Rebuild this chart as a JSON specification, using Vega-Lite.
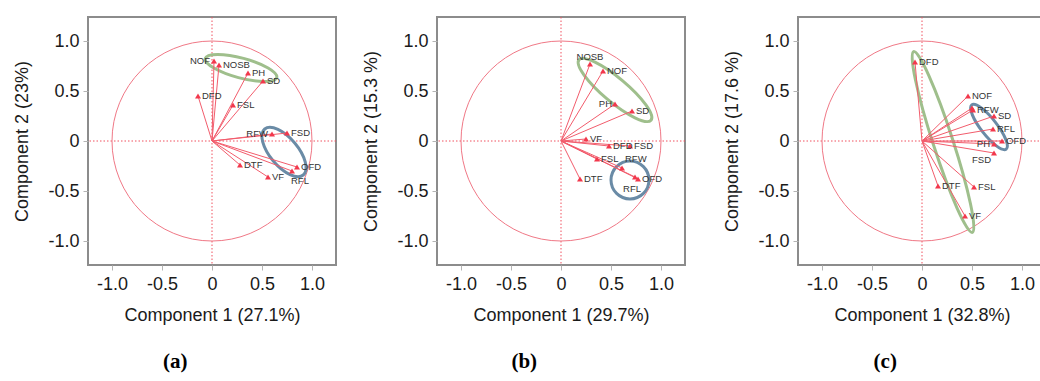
{
  "$schema": "https://vega.github.io/schema/vega-lite/v6.json",
  "padding": {"left": 12, "top": 15, "right": 0, "bottom": 0},
  "background": "white",
  "config": {
    "view": {"stroke": "#8c8c8c", "strokeWidth": 2},
    "axis": {"grid": false, "domain": false, "tickColor": "#b4b4b4", "tickSize": 5, "labelFont": "Liberation Sans", "labelFontSize": 18, "labelColor": "#1a1a1a", "titleFont": "Liberation Sans", "titleFontSize": 18, "titleFontWeight": "normal", "titleColor": "#1a1a1a"},
    "axisX": {"labelPadding": 5, "titlePadding": 13},
    "axisY": {"labelPadding": 4, "titlePadding": 16},
    "title": {"orient": "bottom", "font": "Liberation Serif", "fontSize": 21, "fontWeight": "bold", "color": "#000000", "offset": 27, "anchor": "middle", "frame": "bounds"}
  },
  "datasets": {
    "arrows": [
      {"panel": "a", "var": "NOF", "x": 0.02, "y": 0.80},
      {"panel": "a", "var": "NOSB", "x": 0.07, "y": 0.76},
      {"panel": "a", "var": "PH", "x": 0.36, "y": 0.68},
      {"panel": "a", "var": "SD", "x": 0.51, "y": 0.60},
      {"panel": "a", "var": "DFD", "x": -0.14, "y": 0.45},
      {"panel": "a", "var": "FSL", "x": 0.21, "y": 0.36},
      {"panel": "a", "var": "RFW", "x": 0.60, "y": 0.07},
      {"panel": "a", "var": "FSD", "x": 0.75, "y": 0.08},
      {"panel": "a", "var": "OFD", "x": 0.85, "y": -0.26},
      {"panel": "a", "var": "RFL", "x": 0.80, "y": -0.30},
      {"panel": "a", "var": "DTF", "x": 0.28, "y": -0.24},
      {"panel": "a", "var": "VF", "x": 0.56, "y": -0.36},
      {"panel": "b", "var": "NOSB", "x": 0.29, "y": 0.77},
      {"panel": "b", "var": "NOF", "x": 0.42, "y": 0.70},
      {"panel": "b", "var": "PH", "x": 0.54, "y": 0.37},
      {"panel": "b", "var": "SD", "x": 0.71, "y": 0.30},
      {"panel": "b", "var": "VF", "x": 0.25, "y": 0.02},
      {"panel": "b", "var": "DFD", "x": 0.48, "y": -0.05},
      {"panel": "b", "var": "FSD", "x": 0.69, "y": -0.05},
      {"panel": "b", "var": "FSL", "x": 0.36, "y": -0.18},
      {"panel": "b", "var": "RFW", "x": 0.61, "y": -0.27},
      {"panel": "b", "var": "OFD", "x": 0.77, "y": -0.38},
      {"panel": "b", "var": "RFL", "x": 0.74, "y": -0.36},
      {"panel": "b", "var": "DTF", "x": 0.19, "y": -0.38},
      {"panel": "c", "var": "DFD", "x": -0.07, "y": 0.79},
      {"panel": "c", "var": "NOF", "x": 0.46, "y": 0.45},
      {"panel": "c", "var": "NOSB", "x": 0.50, "y": 0.33},
      {"panel": "c", "var": "RFW", "x": 0.51, "y": 0.31},
      {"panel": "c", "var": "SD", "x": 0.72, "y": 0.25},
      {"panel": "c", "var": "RFL", "x": 0.71, "y": 0.12},
      {"panel": "c", "var": "OFD", "x": 0.80, "y": 0.0},
      {"panel": "c", "var": "PH", "x": 0.72, "y": -0.03},
      {"panel": "c", "var": "FSD", "x": 0.72, "y": -0.12},
      {"panel": "c", "var": "DTF", "x": 0.16, "y": -0.45},
      {"panel": "c", "var": "FSL", "x": 0.52, "y": -0.46},
      {"panel": "c", "var": "VF", "x": 0.43, "y": -0.75}
    ],
    "ellipses": [
      {"panel": "a", "grp": "green", "x": 0.29, "y": 0.73},
      {"panel": "a", "grp": "blue", "x": 0.72, "y": -0.11},
      {"panel": "b", "grp": "green", "x": 0.54, "y": 0.51},
      {"panel": "b", "grp": "blue", "x": 0.69, "y": -0.39},
      {"panel": "c", "grp": "green", "x": 0.21, "y": -0.01},
      {"panel": "c", "grp": "blue", "x": 0.67, "y": 0.14}
    ]
  },
  "spacing": 23,
  "hconcat": [
    {
      "width": 248, "height": 248,
      "title": "(a)",
      "layer": [
        {"data": {"values": [{"v": 0}]}, "mark": {"type": "rule", "color": "#f0505f", "strokeDash": [1.5, 2], "strokeWidth": 1}, "encoding": {"x": {"datum": 0, "type": "quantitative"}}},
        {"data": {"values": [{"v": 0}]}, "mark": {"type": "rule", "color": "#f0505f", "strokeDash": [1.5, 2], "strokeWidth": 1}, "encoding": {"y": {"datum": 0, "type": "quantitative"}}},
        {"data": {"values": [{"v": 0}]}, "mark": {"type": "point", "shape": "circle", "size": 40000, "filled": false, "stroke": "#f07886", "strokeWidth": 1, "opacity": 1}, "encoding": {"x": {"datum": 0, "type": "quantitative"}, "y": {"datum": 0, "type": "quantitative"}}},
        {"data": {"name": "ellipses"}, "transform": [{"filter": {"field": "panel", "equal": "a"}}, {"filter": {"field": "grp", "equal": "green"}}], "mark": {"type": "point", "shape": "M 1 0 C 1 0.149 0.5523 0.27 0 0.27 C -0.5523 0.27 -1 0.149 -1 0 C -1 -0.149 -0.5523 -0.27 0 -0.27 C 0.5523 -0.27 1 -0.149 1 0 Z", "size": 5476, "angle": 15, "filled": false, "stroke": "#9fbf8c", "strokeWidth": 3, "opacity": 1}, "encoding": {"x": {"field": "x", "type": "quantitative"}, "y": {"field": "y", "type": "quantitative"}}},
        {"data": {"name": "ellipses"}, "transform": [{"filter": {"field": "panel", "equal": "a"}}, {"filter": {"field": "grp", "equal": "blue"}}], "mark": {"type": "point", "shape": "M 1 0 C 1 0.258 0.5523 0.467 0 0.467 C -0.5523 0.467 -1 0.258 -1 0 C -1 -0.258 -0.5523 -0.467 0 -0.467 C 0.5523 -0.467 1 -0.258 1 0 Z", "size": 3600, "angle": 50, "filled": false, "stroke": "#6a8ba6", "strokeWidth": 3, "opacity": 1}, "encoding": {"x": {"field": "x", "type": "quantitative"}, "y": {"field": "y", "type": "quantitative"}}},
        {"data": {"name": "arrows"}, "transform": [{"filter": {"field": "panel", "equal": "a"}}], "mark": {"type": "rule", "color": "#f25c6c", "strokeWidth": 1},
          "encoding": {
            "x": {"field": "x", "type": "quantitative", "scale": {"domain": [-1.24, 1.24], "nice": false, "zero": false}, "title": "Component 1 (27.1%)", "axis": {"values": [-1, -0.75, -0.5, -0.25, 0, 0.25, 0.5, 0.75, 1], "labelExpr": "datum.value == -1 ? '-1.0' : datum.value == -0.5 ? '-0.5' : datum.value == 0 ? '0' : datum.value == 0.5 ? '0.5' : datum.value == 1 ? '1.0' : ''", "labelOverlap": false, "labelFlush": false}},
            "y": {"field": "y", "type": "quantitative", "scale": {"domain": [-1.24, 1.24], "nice": false, "zero": false}, "title": "Component 2 (23%)", "axis": {"values": [-1, -0.75, -0.5, -0.25, 0, 0.25, 0.5, 0.75, 1], "labelExpr": "datum.value == -1 ? '-1.0' : datum.value == -0.5 ? '-0.5' : datum.value == 0 ? '0' : datum.value == 0.5 ? '0.5' : datum.value == 1 ? '1.0' : ''", "labelOverlap": false, "labelFlush": false}},
            "x2": {"datum": 0}, "y2": {"datum": 0}}},
        {"data": {"name": "arrows"}, "transform": [{"filter": {"field": "panel", "equal": "a"}}], "mark": {"type": "point", "shape": "triangle-up", "size": 36, "filled": true, "color": "#f2384c", "opacity": 1}, "encoding": {"x": {"field": "x", "type": "quantitative"}, "y": {"field": "y", "type": "quantitative"}}},
        {"data": {"name": "arrows"}, "transform": [{"filter": {"field": "panel", "equal": "a"}}, {"filter": {"field": "var", "oneOf": ["NOSB", "PH", "SD", "DFD", "FSL", "FSD", "OFD", "DTF", "VF"]}}], "mark": {"type": "text", "align": "left", "baseline": "middle", "dx": 4, "font": "Liberation Sans", "fontSize": 9.5, "color": "#333333"}, "encoding": {"x": {"field": "x", "type": "quantitative"}, "y": {"field": "y", "type": "quantitative"}, "text": {"field": "var"}}},
        {"data": {"name": "arrows"}, "transform": [{"filter": {"field": "panel", "equal": "a"}}, {"filter": {"field": "var", "oneOf": ["NOF", "RFW"]}}], "mark": {"type": "text", "align": "right", "baseline": "middle", "dx": -4, "font": "Liberation Sans", "fontSize": 9.5, "color": "#333333"}, "encoding": {"x": {"field": "x", "type": "quantitative"}, "y": {"field": "y", "type": "quantitative"}, "text": {"field": "var"}}},
        {"data": {"name": "arrows"}, "transform": [{"filter": {"field": "panel", "equal": "a"}}, {"filter": {"field": "var", "oneOf": ["RFL"]}}], "mark": {"type": "text", "align": "left", "baseline": "top", "dx": -1, "dy": 5, "font": "Liberation Sans", "fontSize": 9.5, "color": "#333333"}, "encoding": {"x": {"field": "x", "type": "quantitative"}, "y": {"field": "y", "type": "quantitative"}, "text": {"field": "var"}}}
      ]
    },
    {
      "spacing": 35,
      "hconcat": [
        {
          "width": 248, "height": 248,
          "title": "(b)",
          "layer": [
            {"data": {"values": [{"v": 0}]}, "mark": {"type": "rule", "color": "#f0505f", "strokeDash": [1.5, 2], "strokeWidth": 1}, "encoding": {"x": {"datum": 0, "type": "quantitative"}}},
            {"data": {"values": [{"v": 0}]}, "mark": {"type": "rule", "color": "#f0505f", "strokeDash": [1.5, 2], "strokeWidth": 1}, "encoding": {"y": {"datum": 0, "type": "quantitative"}}},
            {"data": {"values": [{"v": 0}]}, "mark": {"type": "point", "shape": "circle", "size": 40000, "filled": false, "stroke": "#f07886", "strokeWidth": 1, "opacity": 1}, "encoding": {"x": {"datum": 0, "type": "quantitative"}, "y": {"datum": 0, "type": "quantitative"}}},
            {"data": {"name": "ellipses"}, "transform": [{"filter": {"field": "panel", "equal": "b"}}, {"filter": {"field": "grp", "equal": "green"}}], "mark": {"type": "point", "shape": "M 1 0 C 1 0.141 0.5523 0.255 0 0.255 C -0.5523 0.255 -1 0.141 -1 0 C -1 -0.141 -0.5523 -0.255 0 -0.255 C 0.5523 -0.255 1 -0.141 1 0 Z", "size": 8836, "angle": 40, "filled": false, "stroke": "#9fbf8c", "strokeWidth": 3, "opacity": 1}, "encoding": {"x": {"field": "x", "type": "quantitative"}, "y": {"field": "y", "type": "quantitative"}}},
            {"data": {"name": "ellipses"}, "transform": [{"filter": {"field": "panel", "equal": "b"}}, {"filter": {"field": "grp", "equal": "blue"}}], "mark": {"type": "point", "shape": "circle", "size": 1444, "filled": false, "stroke": "#6a8ba6", "strokeWidth": 3, "opacity": 1}, "encoding": {"x": {"field": "x", "type": "quantitative"}, "y": {"field": "y", "type": "quantitative"}}},
            {"data": {"name": "arrows"}, "transform": [{"filter": {"field": "panel", "equal": "b"}}], "mark": {"type": "rule", "color": "#f25c6c", "strokeWidth": 1},
              "encoding": {
                "x": {"field": "x", "type": "quantitative", "scale": {"domain": [-1.24, 1.24], "nice": false, "zero": false}, "title": "Component 1 (29.7%)", "axis": {"values": [-1, -0.75, -0.5, -0.25, 0, 0.25, 0.5, 0.75, 1], "labelExpr": "datum.value == -1 ? '-1.0' : datum.value == -0.5 ? '-0.5' : datum.value == 0 ? '0' : datum.value == 0.5 ? '0.5' : datum.value == 1 ? '1.0' : ''", "labelOverlap": false, "labelFlush": false}},
                "y": {"field": "y", "type": "quantitative", "scale": {"domain": [-1.24, 1.24], "nice": false, "zero": false}, "title": "Component 2 (15.3 %)", "axis": {"values": [-1, -0.75, -0.5, -0.25, 0, 0.25, 0.5, 0.75, 1], "labelExpr": "datum.value == -1 ? '-1.0' : datum.value == -0.5 ? '-0.5' : datum.value == 0 ? '0' : datum.value == 0.5 ? '0.5' : datum.value == 1 ? '1.0' : ''", "labelOverlap": false, "labelFlush": false}},
                "x2": {"datum": 0}, "y2": {"datum": 0}}},
            {"data": {"name": "arrows"}, "transform": [{"filter": {"field": "panel", "equal": "b"}}], "mark": {"type": "point", "shape": "triangle-up", "size": 36, "filled": true, "color": "#f2384c", "opacity": 1}, "encoding": {"x": {"field": "x", "type": "quantitative"}, "y": {"field": "y", "type": "quantitative"}}},
            {"data": {"name": "arrows"}, "transform": [{"filter": {"field": "panel", "equal": "b"}}, {"filter": {"field": "var", "oneOf": ["NOF", "SD", "VF", "DFD", "FSD", "FSL", "OFD", "DTF"]}}], "mark": {"type": "text", "align": "left", "baseline": "middle", "dx": 4, "font": "Liberation Sans", "fontSize": 9.5, "color": "#333333"}, "encoding": {"x": {"field": "x", "type": "quantitative"}, "y": {"field": "y", "type": "quantitative"}, "text": {"field": "var"}}},
            {"data": {"name": "arrows"}, "transform": [{"filter": {"field": "panel", "equal": "b"}}, {"filter": {"field": "var", "oneOf": ["PH"]}}], "mark": {"type": "text", "align": "right", "baseline": "middle", "dx": -3, "font": "Liberation Sans", "fontSize": 9.5, "color": "#333333"}, "encoding": {"x": {"field": "x", "type": "quantitative"}, "y": {"field": "y", "type": "quantitative"}, "text": {"field": "var"}}},
            {"data": {"name": "arrows"}, "transform": [{"filter": {"field": "panel", "equal": "b"}}, {"filter": {"field": "var", "oneOf": ["NOSB"]}}], "mark": {"type": "text", "align": "center", "baseline": "bottom", "dy": -2, "font": "Liberation Sans", "fontSize": 9.5, "color": "#333333"}, "encoding": {"x": {"field": "x", "type": "quantitative"}, "y": {"field": "y", "type": "quantitative"}, "text": {"field": "var"}}},
            {"data": {"name": "arrows"}, "transform": [{"filter": {"field": "panel", "equal": "b"}}, {"filter": {"field": "var", "oneOf": ["RFW"]}}], "mark": {"type": "text", "align": "left", "baseline": "middle", "dx": 3, "dy": -9, "font": "Liberation Sans", "fontSize": 9.5, "color": "#333333"}, "encoding": {"x": {"field": "x", "type": "quantitative"}, "y": {"field": "y", "type": "quantitative"}, "text": {"field": "var"}}},
            {"data": {"name": "arrows"}, "transform": [{"filter": {"field": "panel", "equal": "b"}}, {"filter": {"field": "var", "oneOf": ["RFL"]}}], "mark": {"type": "text", "align": "center", "baseline": "top", "dx": -3, "dy": 7, "font": "Liberation Sans", "fontSize": 9.5, "color": "#333333"}, "encoding": {"x": {"field": "x", "type": "quantitative"}, "y": {"field": "y", "type": "quantitative"}, "text": {"field": "var"}}}
          ]
        },
        {
          "width": 248, "height": 248,
          "title": "(c)",
          "layer": [
            {"data": {"values": [{"v": 0}]}, "mark": {"type": "rule", "color": "#f0505f", "strokeDash": [1.5, 2], "strokeWidth": 1}, "encoding": {"x": {"datum": 0, "type": "quantitative"}}},
            {"data": {"values": [{"v": 0}]}, "mark": {"type": "rule", "color": "#f0505f", "strokeDash": [1.5, 2], "strokeWidth": 1}, "encoding": {"y": {"datum": 0, "type": "quantitative"}}},
            {"data": {"values": [{"v": 0}]}, "mark": {"type": "point", "shape": "circle", "size": 40000, "filled": false, "stroke": "#f07886", "strokeWidth": 1, "opacity": 1}, "encoding": {"x": {"datum": 0, "type": "quantitative"}, "y": {"datum": 0, "type": "quantitative"}}},
            {"data": {"name": "ellipses"}, "transform": [{"filter": {"field": "panel", "equal": "c"}}, {"filter": {"field": "grp", "equal": "green"}}], "mark": {"type": "point", "shape": "M 1 0 C 1 0.058 0.5523 0.105 0 0.105 C -0.5523 0.105 -1 0.058 -1 0 C -1 -0.058 -0.5523 -0.105 0 -0.105 C 0.5523 -0.105 1 -0.058 1 0 Z", "size": 36100, "angle": 72, "filled": false, "stroke": "#9fbf8c", "strokeWidth": 3, "opacity": 1}, "encoding": {"x": {"field": "x", "type": "quantitative"}, "y": {"field": "y", "type": "quantitative"}}},
            {"data": {"name": "ellipses"}, "transform": [{"filter": {"field": "panel", "equal": "c"}}, {"filter": {"field": "grp", "equal": "blue"}}], "mark": {"type": "point", "shape": "M 1 0 C 1 0.158 0.5523 0.286 0 0.286 C -0.5523 0.286 -1 0.158 -1 0 C -1 -0.158 -0.5523 -0.286 0 -0.286 C 0.5523 -0.286 1 -0.158 1 0 Z", "size": 3136, "angle": 52, "filled": false, "stroke": "#6a8ba6", "strokeWidth": 3, "opacity": 1}, "encoding": {"x": {"field": "x", "type": "quantitative"}, "y": {"field": "y", "type": "quantitative"}}},
            {"data": {"name": "arrows"}, "transform": [{"filter": {"field": "panel", "equal": "c"}}], "mark": {"type": "rule", "color": "#f25c6c", "strokeWidth": 1},
              "encoding": {
                "x": {"field": "x", "type": "quantitative", "scale": {"domain": [-1.24, 1.24], "nice": false, "zero": false}, "title": "Component 1 (32.8%)", "axis": {"values": [-1, -0.75, -0.5, -0.25, 0, 0.25, 0.5, 0.75, 1], "labelExpr": "datum.value == -1 ? '-1.0' : datum.value == -0.5 ? '-0.5' : datum.value == 0 ? '0' : datum.value == 0.5 ? '0.5' : datum.value == 1 ? '1.0' : ''", "labelOverlap": false, "labelFlush": false}},
                "y": {"field": "y", "type": "quantitative", "scale": {"domain": [-1.24, 1.24], "nice": false, "zero": false}, "title": "Component 2 (17.6 %)", "axis": {"values": [-1, -0.75, -0.5, -0.25, 0, 0.25, 0.5, 0.75, 1], "labelExpr": "datum.value == -1 ? '-1.0' : datum.value == -0.5 ? '-0.5' : datum.value == 0 ? '0' : datum.value == 0.5 ? '0.5' : datum.value == 1 ? '1.0' : ''", "labelOverlap": false, "labelFlush": false}},
                "x2": {"datum": 0}, "y2": {"datum": 0}}},
            {"data": {"name": "arrows"}, "transform": [{"filter": {"field": "panel", "equal": "c"}}], "mark": {"type": "point", "shape": "triangle-up", "size": 36, "filled": true, "color": "#f2384c", "opacity": 1}, "encoding": {"x": {"field": "x", "type": "quantitative"}, "y": {"field": "y", "type": "quantitative"}}},
            {"data": {"name": "arrows"}, "transform": [{"filter": {"field": "panel", "equal": "c"}}, {"filter": {"field": "var", "oneOf": ["DFD", "NOF", "RFW", "SD", "RFL", "OFD", "DTF", "FSL", "VF"]}}], "mark": {"type": "text", "align": "left", "baseline": "middle", "dx": 4, "font": "Liberation Sans", "fontSize": 9.5, "color": "#333333"}, "encoding": {"x": {"field": "x", "type": "quantitative"}, "y": {"field": "y", "type": "quantitative"}, "text": {"field": "var"}}},
            {"data": {"name": "arrows"}, "transform": [{"filter": {"field": "panel", "equal": "c"}}, {"filter": {"field": "var", "oneOf": ["PH"]}}], "mark": {"type": "text", "align": "right", "baseline": "middle", "dx": -4, "font": "Liberation Sans", "fontSize": 9.5, "color": "#333333"}, "encoding": {"x": {"field": "x", "type": "quantitative"}, "y": {"field": "y", "type": "quantitative"}, "text": {"field": "var"}}},
            {"data": {"name": "arrows"}, "transform": [{"filter": {"field": "panel", "equal": "c"}}, {"filter": {"field": "var", "oneOf": ["FSD"]}}], "mark": {"type": "text", "align": "right", "baseline": "top", "dx": -3, "dy": 2, "font": "Liberation Sans", "fontSize": 9.5, "color": "#333333"}, "encoding": {"x": {"field": "x", "type": "quantitative"}, "y": {"field": "y", "type": "quantitative"}, "text": {"field": "var"}}}
          ]
        }
      ]
    }
  ]
}
